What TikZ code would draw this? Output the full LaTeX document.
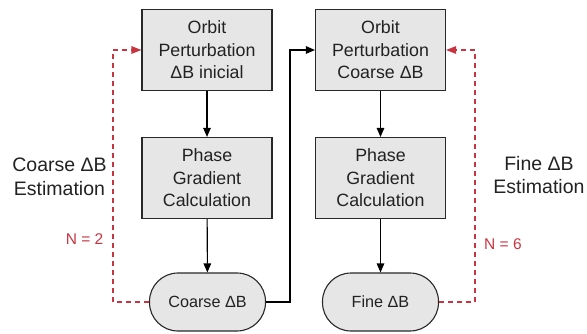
\documentclass[tikz,border=0pt]{standalone}
\usepackage{fontspec}
\setmainfont{Liberation Sans}
\usetikzlibrary{arrows.meta}
\definecolor{boxfill}{RGB}{230,230,230}
\definecolor{boxline}{RGB}{40,40,40}
\definecolor{loopred}{RGB}{200,52,64}
\definecolor{ink}{RGB}{34,34,34}
\begin{document}
\begin{tikzpicture}[x=1pt,y=-1pt,
  procbox/.style={draw=boxline,fill=boxfill,line width=1.1pt,minimum width=130pt,minimum height=81pt,
    align=center,text=ink,font=\fontsize{17.8}{22.5}\selectfont,inner sep=0pt},
  termbox/.style={draw=boxline,fill=boxfill,line width=1.1pt,minimum width=116pt,minimum height=58pt,
    rounded corners=28.5pt,text=ink,font=\fontsize{16.2}{20}\selectfont,inner sep=0pt},
  flow/.style={draw=black,line width=1.1pt,-{Triangle[length=9pt,width=7.5pt]}},
  loop/.style={draw=loopred,line width=1.1pt,dash pattern=on 5pt off 4pt,-{Triangle[length=10pt,width=7.5pt]}},
  sidelabel/.style={align=center,text=ink,font=\fontsize{19.5}{23.5}\selectfont,inner sep=0pt},
  countlabel/.style={text=loopred,font=\fontsize{15.5}{18}\selectfont,inner sep=0pt}]
\useasboundingbox (0,0) rectangle (587,334);

% left column
\node[procbox] (orbA) at (207,50) {Orbit\\Perturbation\\ΔB inicial};
\node[procbox] (phA) at (207,178) {Phase\\Gradient\\Calculation};
\node[termbox] (coarse) at (207.5,302) {Coarse ΔB};

% right column
\node[procbox] (orbB) at (380.5,50) {Orbit\\Perturbation\\Coarse ΔB};
\node[procbox] (phB) at (380.5,178) {Phase\\Gradient\\Calculation};
\node[termbox] (fine) at (380.5,302) {Fine ΔB};

% main flow
\draw[flow] (orbA) -- (phA);
\draw[flow] (phA) -- (coarse);
\draw[flow] (orbB) -- (phB);
\draw[flow] (phB) -- (fine);
\coordinate (jx) at (290,0);
\draw[flow] (coarse.east) -| (jx |- orbB.west) -- (orbB.west);

% iteration loops
\coordinate (lx) at (113,0);
\coordinate (rx) at (475,0);
\draw[loop] (coarse.west) -- (lx |- coarse.west) -- (lx |- orbA.west) -- (orbA.west);
\draw[loop] (fine.east) -- (rx |- fine.east) -- (rx |- orbB.east) -- (orbB.east);

% labels
\node[sidelabel] (lcoarse) at (59.5,177) {Coarse ΔB\\Estimation};
\node[sidelabel] (lfine) at (539,175) {Fine ΔB\\Estimation};
\node[countlabel,anchor=east] (n2) at (103.5,239) {N = 2};
\node[countlabel,anchor=west] (n6) at (484,244.5) {N = 6};
\end{tikzpicture}
\end{document}
